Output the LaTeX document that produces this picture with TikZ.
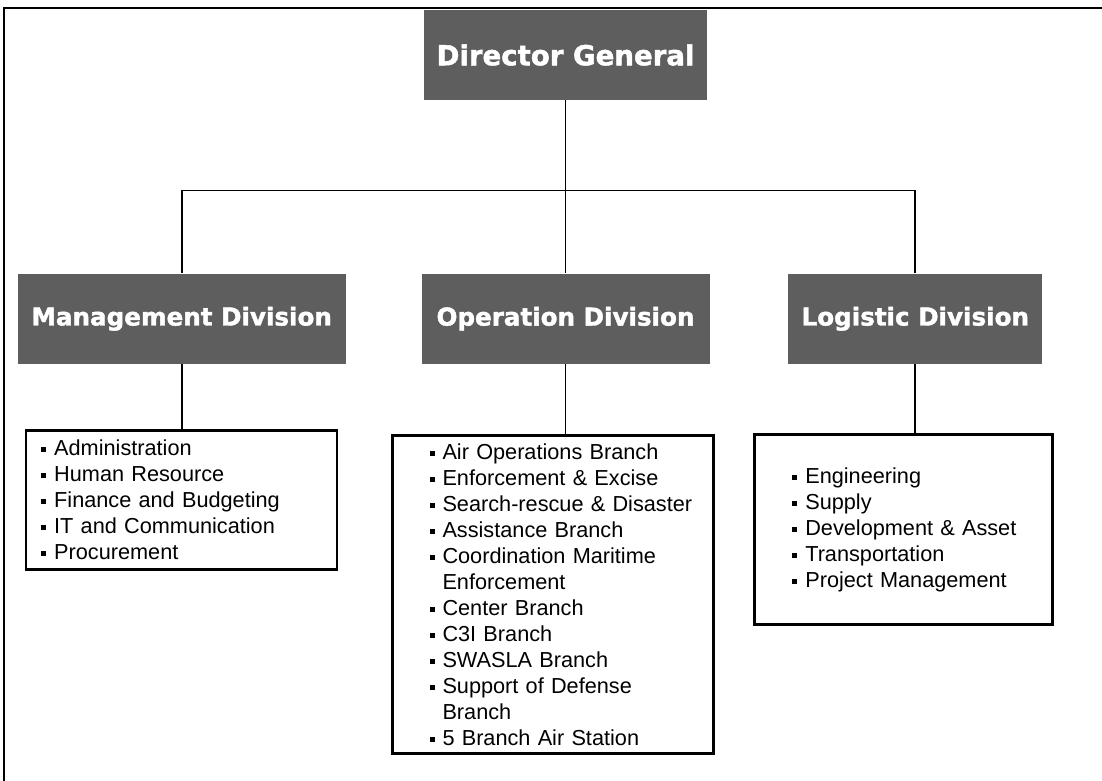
\documentclass[tikz,border=0pt]{standalone}
\usepackage{fontspec}
\setmainfont{Liberation Sans}
\newfontfamily\headfont{DejaVu Sans}[BoldFeatures={FakeBold=1.6}]
\usetikzlibrary{positioning}
\definecolor{DEFINE_UNIT_COLOR}{HTML}{5E5E5E}
\tikzstyle{UNIT_COLOR}=[fill=DEFINE_UNIT_COLOR]
\tikzstyle{unit} = [rectangle, UNIT_COLOR, text=white, minimum height=45pt, font=\headfont\bfseries\fontsize{12.3}{14}\selectfont]
\tikzstyle{head_unit} = [unit, minimum width=141.5pt, font=\headfont\bfseries\fontsize{13.8}{16}\selectfont]
\tikzstyle{list} = [rectangle, draw=black, line width=1.2pt, align=left, inner ysep=0pt, font=\fontsize{10.85}{13}\selectfont]
\tikzstyle{link} = [line width=0.9pt]
\newcommand{\itm}[1]{\mbox{\rule[1.6pt]{2.5pt}{2.6pt}\hspace{4pt}#1}}
\newcommand{\cnt}[1]{\mbox{\hspace{6.5pt}#1}}
\begin{document}
\begin{tikzpicture}[node distance = 86.5pt and 37.5pt]
      \useasboundingbox (0,0) rectangle (551pt,-390.5pt);
      \draw[line width=0.8pt] (551pt,-4pt) -- (2pt,-4pt) -- (2pt,-390.5pt);

      %%%%%%%%%%%%%%%%%%%%%%%%%%%%%%%%%%%%%%%%%%%%%%%%%
      % UNITS
      %%%%%%%%%%%%%%%%%%%%%%%%%%%%%%%%%%%%%%%%%%%%%%%%%
      \node[head_unit] (DG) at (282.75pt,-27.5pt) {Director General};
      \node[unit, minimum width=144pt, below=of DG] (OPD) {Operation Division};
      \node[unit, minimum width=164pt, left=37.5pt of OPD] (MGD) {Management Division};
      \node[unit, minimum width=127pt, right=39pt of OPD] (LGD) {Logistic Division};

      %%%%%%%%%%%%%%%%%%%%%%%%%%%%%%%%%%%%%%%%%%%%%%%%%
      % BRANCH LISTS
      %%%%%%%%%%%%%%%%%%%%%%%%%%%%%%%%%%%%%%%%%%%%%%%%%
      \node[list, text width=140.5pt, inner xsep=7.5pt, minimum height=69.5pt, below=32.5pt of MGD] (MGL)
      {\itm{Administration}\\ \itm{Human Resource}\\ \itm{Finance and Budgeting}\\
       \itm{IT and Communication}\\ \itm{Procurement}};
      \node[list, text width=123.5pt, inner xsep=18.5pt, minimum height=159pt, below=35pt of OPD, xshift=-6.25pt] (OPL)
      {\itm{Air Operations Branch}\\ \itm{Enforcement \& Excise}\\ \itm{Search-rescue \& Disaster}\\
       \itm{Assistance Branch}\\ \itm{Coordination Maritime}\\ \cnt{Enforcement}\\
       \itm{Center Branch}\\ \itm{C3I Branch}\\ \itm{SWASLA Branch}\\
       \itm{Support of Defense}\\ \cnt{Branch}\\ \itm{5 Branch Air Station}};
      \node[list, text width=111pt, inner xsep=19pt, minimum height=95pt, below=34.5pt of LGD, xshift=-6pt] (LGL)
      {\itm{Engineering}\\ \itm{Supply}\\ \itm{Development \& Asset}\\
       \itm{Transportation}\\ \itm{Project Management}};

      %%%%%%%%%%%%%%%%%%%%%%%%%%%%%%%%%%%%%%%%%%%%%%%%%
      % LINKS
      %%%%%%%%%%%%%%%%%%%%%%%%%%%%%%%%%%%%%%%%%%%%%%%%%
      \path[link, to path={-- ++(0,-45pt) -| (\tikztotarget)}]
      (DG.south) edge (MGD.north)
      (DG.south) edge (OPD.north)
      (DG.south) edge (LGD.north);
      \path[link]
      (MGD.south) edge (MGD.south |- MGL.north)
      (OPD.south) edge (OPD.south |- OPL.north)
      (LGD.south) edge (LGD.south |- LGL.north);

\end{tikzpicture}
\end{document}
